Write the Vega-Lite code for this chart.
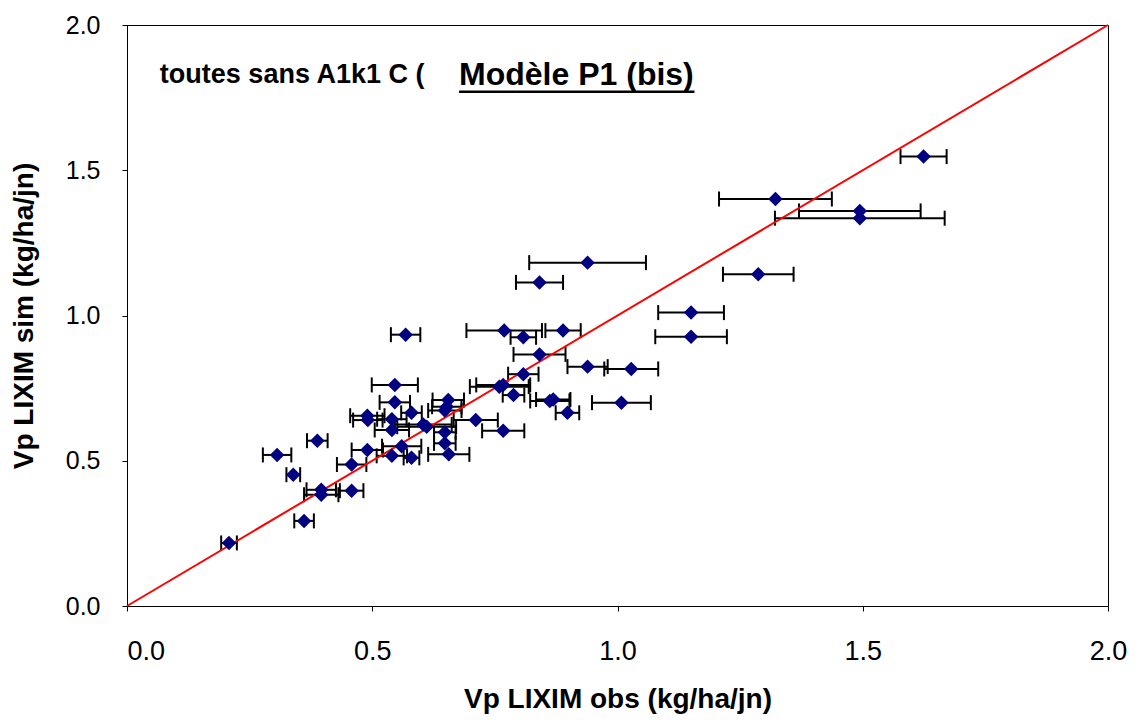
{
  "$schema": "https://vega.github.io/schema/vega-lite/v6.json",
  "width": 981,
  "height": 581,
  "autosize": {"type": "none"},
  "padding": {"left": 127, "top": 25, "right": 32, "bottom": 114},
  "background": "white",
  "config": {
    "font": "Liberation Sans",
    "view": {"stroke": "black", "strokeWidth": 1},
    "axis": {
      "grid": false,
      "domainColor": "black",
      "tickColor": "black",
      "tickSize": 5,
      "labelFont": "Liberation Sans",
      "labelColor": "black",
      "titleFont": "Liberation Sans",
      "titleFontSize": 28,
      "titleFontWeight": "bold",
      "titleColor": "black"
    }
  },
  "datasets": {
    "pts": [
      {"obs": 0.208, "sim": 0.217, "lo": 0.192, "hi": 0.224},
      {"obs": 0.361, "sim": 0.293, "lo": 0.341, "hi": 0.381},
      {"obs": 0.306, "sim": 0.520, "lo": 0.277, "hi": 0.335},
      {"obs": 0.339, "sim": 0.452, "lo": 0.325, "hi": 0.353},
      {"obs": 0.388, "sim": 0.569, "lo": 0.367, "hi": 0.409},
      {"obs": 0.396, "sim": 0.400, "lo": 0.366, "hi": 0.426},
      {"obs": 0.396, "sim": 0.383, "lo": 0.361, "hi": 0.431},
      {"obs": 0.458, "sim": 0.397, "lo": 0.434, "hi": 0.482},
      {"obs": 0.458, "sim": 0.487, "lo": 0.428, "hi": 0.488},
      {"obs": 0.490, "sim": 0.537, "lo": 0.458, "hi": 0.522},
      {"obs": 0.490, "sim": 0.655, "lo": 0.455, "hi": 0.525},
      {"obs": 0.491, "sim": 0.640, "lo": 0.461, "hi": 0.521},
      {"obs": 0.546, "sim": 0.761, "lo": 0.499, "hi": 0.593},
      {"obs": 0.546, "sim": 0.701, "lo": 0.515, "hi": 0.577},
      {"obs": 0.540, "sim": 0.643, "lo": 0.510, "hi": 0.570},
      {"obs": 0.540, "sim": 0.606, "lo": 0.505, "hi": 0.575},
      {"obs": 0.580, "sim": 0.665, "lo": 0.559, "hi": 0.601},
      {"obs": 0.604, "sim": 0.625, "lo": 0.546, "hi": 0.662},
      {"obs": 0.611, "sim": 0.617, "lo": 0.551, "hi": 0.671},
      {"obs": 0.560, "sim": 0.550, "lo": 0.520, "hi": 0.600},
      {"obs": 0.540, "sim": 0.517, "lo": 0.509, "hi": 0.571},
      {"obs": 0.580, "sim": 0.510, "lo": 0.564, "hi": 0.596},
      {"obs": 0.568, "sim": 0.934, "lo": 0.538, "hi": 0.598},
      {"obs": 0.655, "sim": 0.709, "lo": 0.623, "hi": 0.687},
      {"obs": 0.652, "sim": 0.686, "lo": 0.622, "hi": 0.682},
      {"obs": 0.648, "sim": 0.673, "lo": 0.614, "hi": 0.682},
      {"obs": 0.648, "sim": 0.598, "lo": 0.626, "hi": 0.670},
      {"obs": 0.648, "sim": 0.560, "lo": 0.626, "hi": 0.670},
      {"obs": 0.656, "sim": 0.522, "lo": 0.614, "hi": 0.698},
      {"obs": 0.711, "sim": 0.640, "lo": 0.666, "hi": 0.756},
      {"obs": 0.767, "sim": 0.603, "lo": 0.724, "hi": 0.810},
      {"obs": 0.759, "sim": 0.755, "lo": 0.699, "hi": 0.819},
      {"obs": 0.767, "sim": 0.761, "lo": 0.712, "hi": 0.822},
      {"obs": 0.788, "sim": 0.726, "lo": 0.766, "hi": 0.810},
      {"obs": 0.808, "sim": 0.798, "lo": 0.777, "hi": 0.839},
      {"obs": 0.841, "sim": 0.866, "lo": 0.788, "hi": 0.894},
      {"obs": 0.769, "sim": 0.948, "lo": 0.692, "hi": 0.846},
      {"obs": 0.808, "sim": 0.925, "lo": 0.782, "hi": 0.834},
      {"obs": 0.889, "sim": 0.948, "lo": 0.853, "hi": 0.925},
      {"obs": 0.841, "sim": 1.114, "lo": 0.793, "hi": 0.889},
      {"obs": 0.939, "sim": 1.182, "lo": 0.820, "hi": 1.058},
      {"obs": 0.862, "sim": 0.706, "lo": 0.822, "hi": 0.902},
      {"obs": 0.869, "sim": 0.711, "lo": 0.834, "hi": 0.904},
      {"obs": 0.898, "sim": 0.665, "lo": 0.874, "hi": 0.922},
      {"obs": 0.939, "sim": 0.824, "lo": 0.898, "hi": 0.980},
      {"obs": 1.028, "sim": 0.816, "lo": 0.973, "hi": 1.083},
      {"obs": 1.008, "sim": 0.700, "lo": 0.948, "hi": 1.068},
      {"obs": 1.150, "sim": 1.010, "lo": 1.083, "hi": 1.217},
      {"obs": 1.150, "sim": 0.927, "lo": 1.077, "hi": 1.223},
      {"obs": 1.287, "sim": 1.142, "lo": 1.215, "hi": 1.359},
      {"obs": 1.322, "sim": 1.401, "lo": 1.207, "hi": 1.437},
      {"obs": 1.494, "sim": 1.360, "lo": 1.370, "hi": 1.618},
      {"obs": 1.494, "sim": 1.335, "lo": 1.321, "hi": 1.667},
      {"obs": 1.624, "sim": 1.547, "lo": 1.577, "hi": 1.671}
    ],
    "diag": [
      {"obs": 0, "sim": 0},
      {"obs": 2, "sim": 2}
    ],
    "labels": [
      {"obs": 0.067, "sim": 1.828, "txt": "toutes sans A1k1 C (", "kind": "a"},
      {"obs": 0.677, "sim": 1.828, "txt": "Modèle P1 (bis)", "kind": "b"}
    ],
    "underline": [
      {"obs": 0.677, "obs2": 1.157, "sim": 1.77}
    ]
  },
  "encoding": {
    "x": {
      "field": "obs", "type": "quantitative",
      "scale": {"domain": [0, 2], "nice": false, "zero": false},
      "axis": {
        "values": [0, 0.5, 1, 1.5, 2], "format": ".1f",
        "title": "Vp LIXIM obs (kg/ha/jn)",
        "labelFontSize": 27,
        "labelFlush": false,
        "labelAlign": {"condition": {"test": "datum.value == 0", "value": "left"}, "value": "center"},
        "labelPadding": 27, "titlePadding": 21
      }
    },
    "y": {
      "field": "sim", "type": "quantitative",
      "scale": {"domain": [0, 2], "nice": false, "zero": false},
      "axis": {
        "values": [0, 0.5, 1, 1.5, 2], "format": ".1f",
        "title": "Vp LIXIM sim (kg/ha/jn)",
        "labelFontSize": 25,
        "labelPadding": 22, "titlePadding": 27
      }
    }
  },
  "layer": [
    {
      "data": {"name": "pts"},
      "mark": {"type": "rule", "color": "black", "strokeWidth": 2},
      "encoding": {
        "x": {"field": "lo", "type": "quantitative"},
        "x2": {"field": "hi"}
      }
    },
    {
      "data": {"name": "pts"},
      "mark": {"type": "tick", "orient": "vertical", "color": "black", "thickness": 2, "size": 15, "opacity": 1},
      "encoding": {
        "x": {"field": "lo", "type": "quantitative"}
      }
    },
    {
      "data": {"name": "pts"},
      "mark": {"type": "tick", "orient": "vertical", "color": "black", "thickness": 2, "size": 15, "opacity": 1},
      "encoding": {
        "x": {"field": "hi", "type": "quantitative"}
      }
    },
    {
      "data": {"name": "diag"},
      "mark": {"type": "line", "color": "#ff0000", "strokeWidth": 2},
      "encoding": {}
    },
    {
      "data": {"name": "pts"},
      "mark": {"type": "point", "shape": "diamond", "filled": true, "color": "#000080", "size": 210, "opacity": 1},
      "encoding": {}
    },
    {
      "data": {"name": "labels"},
      "transform": [{"filter": "datum.kind == 'a'"}],
      "mark": {"type": "text", "align": "left", "baseline": "middle", "fontSize": 27, "fontWeight": "bold", "color": "black", "font": "Liberation Sans"},
      "encoding": {"text": {"field": "txt"}}
    },
    {
      "data": {"name": "labels"},
      "transform": [{"filter": "datum.kind == 'b'"}],
      "mark": {"type": "text", "align": "left", "baseline": "middle", "fontSize": 32, "fontWeight": "bold", "color": "black", "font": "Liberation Sans"},
      "encoding": {"text": {"field": "txt"}}
    },
    {
      "data": {"name": "underline"},
      "mark": {"type": "rule", "color": "black", "strokeWidth": 2.5},
      "encoding": {
        "x2": {"field": "obs2"}
      }
    }
  ]
}
